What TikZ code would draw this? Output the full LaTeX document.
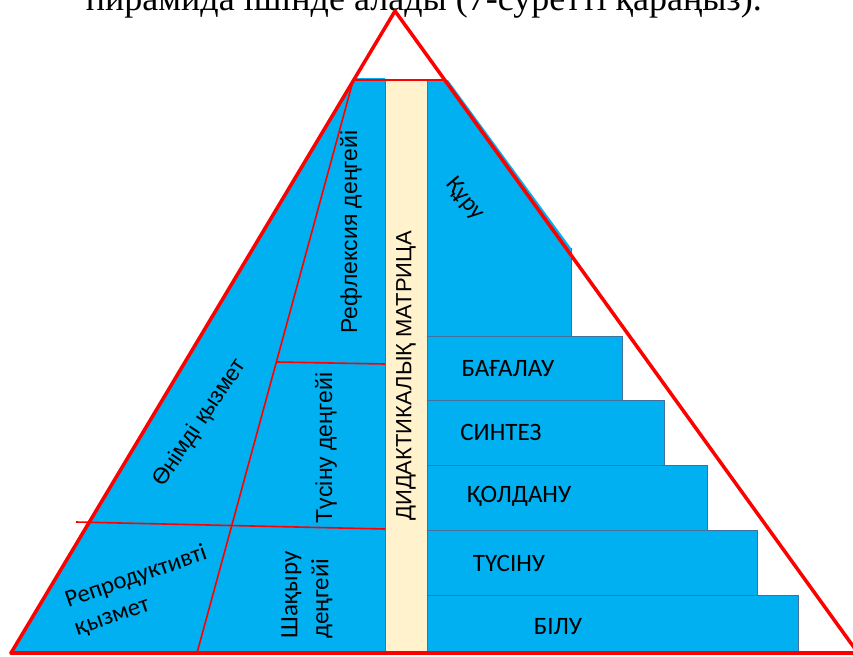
\documentclass[tikz,border=0pt]{standalone}
\usepackage{fontspec}
\setmainfont{Liberation Serif}
\newfontfamily\carfont{Carlito}
\newfontfamily\arifont{Liberation Sans}
\newfontfamily\tmsfont{Liberation Serif}
\definecolor{pblue}{HTML}{00B0F0}
\definecolor{cream}{HTML}{FFF2CC}
\definecolor{bord}{HTML}{41719C}
\definecolor{pred}{HTML}{FF0000}
\tikzset{
  stepbox/.style={fill=pblue, draw=bord, line width=0.8pt},
  redthick/.style={draw=pred, line width=3.5pt, line cap=round, line join=round},
  redthin/.style={draw=pred, line width=1.6pt},
  lbl/.style={font=\arifont\fontsize{23}{27}\selectfont, inner sep=0pt},
  clbl/.style={font=\carfont\fontsize{25}{30}\selectfont, inner sep=0pt, align=left},
}
\begin{document}
\begin{tikzpicture}[x=1pt,y=-1pt]
\useasboundingbox (0,0) rectangle (853,656);
% top sentence (cut off by the page edge)
\node[font=\tmsfont\fontsize{36}{40}\selectfont, anchor=base east, inner sep=0pt] (sent) at (762,10) {пирамида ішінде алады (7-суретті қараңыз).};
% left blue area
\fill[pblue] (354,78) -- (385,78) -- (385,653) -- (11,653) -- cycle;
% Құру block
\fill[pblue] (427,80) -- (448,80) -- (571,248) -- (571,336) -- (427,336) -- cycle;
\draw[draw=bord, line width=0.8pt] (571,248) -- (571,336) -- (427,336);
% steps
\path[stepbox] (427,336) rectangle (622,400);
\path[stepbox] (427,400) rectangle (664,465);
\path[stepbox] (427,465) rectangle (707,530);
\path[stepbox] (427,530) rectangle (757,595);
\path[stepbox] (427,595) rectangle (798,653);
% matrix column
\path[fill=cream, draw=bord, line width=0.8pt] (385,80) rectangle (427,653);
% red lines
\coordinate (A) at (395,11);
\coordinate (L) at (11,653);
\coordinate (R) at (858,653);
\draw[redthin] (353,81) -- (197,653);
\draw[redthin] (277,362) -- (385,364);
\draw[redthin] (76,522) -- (385,529);
\draw[draw=pred, line width=2pt] (354,80) -- (446,80);
\draw[redthick] (L) -- (A) -- (R);
\draw[redthick] (L) -- (R);
% texts
\node[lbl, font=\arifont\fontsize{22}{26}\selectfont, rotate=90] (dm) at (406,376) {ДИДАКТИКАЛЫҚ МАТРИЦА};
\node[lbl, rotate=90] (refl) at (351,232) {Рефлексия деңгейі};
\node[lbl, rotate=90] (tus) at (326,448) {Түсіну деңгейі};
\node[lbl, font=\arifont\fontsize{22.5}{27}\selectfont, rotate=56] (onim) at (200,423) {Өнімді қызмет};
\node[clbl, font=\carfont\fontsize{24.5}{29.5}\selectfont, rotate=19] (rep) at (141,591) {Репродуктивті\\қызмет};
\node[clbl, font=\carfont\fontsize{25}{31}\selectfont, rotate=90] (shak) at (307,595) {Шақыру\\деңгейі};
\node[clbl, font=\carfont\fontsize{24}{29}\selectfont, rotate=-50] (kuru) at (465,199) {Құру};
\node[clbl] (bag) at (508,369) {БАҒАЛАУ};
\node[clbl] (sin) at (501,432) {СИНТЕЗ};
\node[clbl] (kol) at (519,496) {ҚОЛДАНУ};
\node[clbl] (tus2) at (509,563) {ТҮСІНУ};
\node[clbl] (bil) at (558,627) {БІЛУ};
\end{tikzpicture}
\end{document}
